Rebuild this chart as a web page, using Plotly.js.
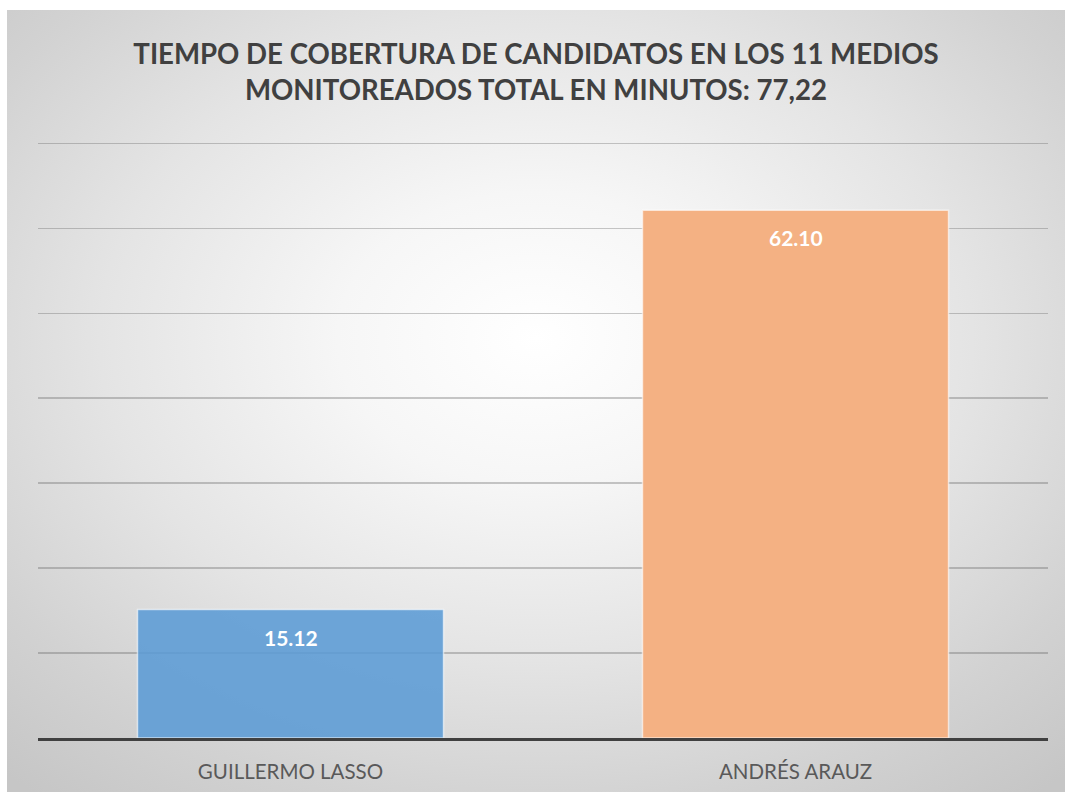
<!DOCTYPE html>
<html>
<head>
<meta charset="utf-8">
<script src="https://cdn.plot.ly/plotly-3.0.1.min.js"></script>
<style>
  html, body { margin: 0; padding: 0; background: #ffffff; width: 1065px; height: 792px; overflow: hidden; }
  #chart {
    position: absolute; left: 7px; top: 10px; width: 1058px; height: 782px;
    background: radial-gradient(ellipse 75% 75% at 50% 42%, #ffffff 0%, #f6f6f6 25%, #e4e4e4 55%, #d2d2d2 80%, #c6c6c6 100%);
  }
</style>
</head>
<body>
<div id="chart"></div>
<script>
const categories = ["GUILLERMO LASSO", "ANDRÉS ARAUZ"];
const minutes = [15.12, 62.10];
const labels = ["15.12", "62.10"];
const barColors = ["rgba(91,155,213,0.88)", "rgba(244,177,131,1)"];
const titleText = "TIEMPO DE COBERTURA DE CANDIDATOS EN LOS 11 MEDIOS<br>MONITOREADOS TOTAL EN MINUTOS: 77,22";

const trace = {
  type: "bar",
  x: categories,
  y: minutes,
  marker: { color: barColors, line: { color: "rgba(255,255,255,0.6)", width: 1.5 } },
  hoverinfo: "none"
};

const annotations = categories.map((c, i) => ({
  x: c, y: minutes[i], xref: "x", yref: "y",
  text: "<b>" + labels[i] + "</b>",
  showarrow: false, yanchor: "top", yshift: -13,
  font: { family: "Lato, 'Open Sans', sans-serif", size: 21, color: "#ffffff" }
}));

const layout = {
  width: 1058, height: 782,
  margin: { l: 31, r: 17, t: 129, b: 54 },
  paper_bgcolor: "rgba(0,0,0,0)",
  plot_bgcolor: "rgba(0,0,0,0)",
  title: {
    text: "<b>" + titleText + "</b>",
    x: 0.5, xanchor: "center", y: 0.931, yanchor: "top",
    font: { family: "Lato, 'Open Sans', sans-serif", size: 27.6, color: "#404040" }
  },
  bargap: 0.394,
  showlegend: false,
  xaxis: {
    showline: true, linecolor: "#404040", linewidth: 3,
    ticks: "", showgrid: false,
    tickfont: { family: "Lato, 'Open Sans', sans-serif", size: 20.5, color: "#595959" },
    ticklabelstandoff: 13
  },
  yaxis: {
    range: [0, 70.5], tickvals: [10, 20, 30, 40, 50, 60, 70], showticklabels: false, ticks: "",
    showgrid: true, gridcolor: "rgba(90,90,90,0.33)", gridwidth: 1.3,
    zeroline: false, showline: false
  },
  annotations: annotations
};

Plotly.newPlot("chart", [trace], layout, { staticPlot: true, displayModeBar: false });
</script>
</body>
</html>
